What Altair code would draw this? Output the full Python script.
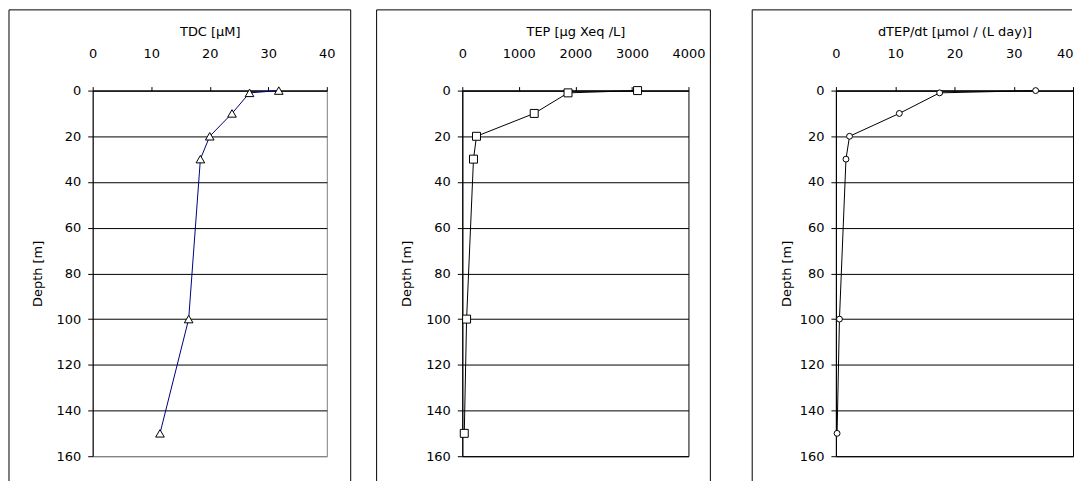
import altair as alt
import pandas as pd

# ---- data ----
DEPTH = [0, 1, 10, 20, 30, 100, 150]
TDC = [31.8, 26.8, 23.8, 20.0, 18.4, 16.4, 11.5]
TEP = [3100, 1870, 1272, 251, 198, 76, 35]
DTEP = [33.7, 17.5, 10.7, 2.3, 1.7, 0.6, 0.2]
DEPTH_TICKS = [0, 20, 40, 60, 80, 100, 120, 140, 160]
TDC_TICKS = [0, 10, 20, 30, 40]
TEP_TICKS = [0, 1000, 2000, 3000, 4000]
DTEP_TICKS = [0, 10, 20, 30, 40]

FONT = "DejaVu Sans"
H = 367
BOX_TOP = -81
BOX_BOTTOM = 392


def panel(vals, xticks, xtitle, line_color, shape, size, view_stroke, width,
          box_left, box_right, ytitle_pad, bottom_grid_color,
          extra_right=None, draw_right=True, last_label_right=False):
    df = pd.DataFrame({"depth": DEPTH, "value": vals})
    label_align = "center"
    if last_label_right:
        label_align = {"condition": {"test": "datum.value === %d" % xticks[-1],
                                     "value": "right"},
                       "value": "center"}
    x = alt.X("value:Q",
              scale=alt.Scale(domain=[xticks[0], xticks[-1]], nice=False, zero=False),
              axis=alt.Axis(orient="top", values=xticks, format="d", title=xtitle,
                            grid=False, tickSize=4, labelPadding=26, titlePadding=9,
                            domainColor="black", tickColor="black",
                            labelAlign=label_align,
                            labelFlush=False, labelOverlap=False))
    y = alt.Y("depth:Q",
              scale=alt.Scale(domain=[0, 160], reverse=True, nice=False, zero=False),
              axis=alt.Axis(values=DEPTH_TICKS, format="d", title="Depth [m]",
                            grid=True,
                            gridColor={"condition": {"test": "datum.value === 160",
                                                     "value": bottom_grid_color},
                                       "value": "black"},
                            gridOpacity=1, gridWidth=1,
                            tickSize=5, labelPadding=7, titlePadding=ytitle_pad,
                            domainColor="black", tickColor="black",
                            labelFlush=False, labelOverlap=False))
    base = alt.Chart(df)
    line = base.mark_line(color=line_color, strokeWidth=1).encode(
        x=x, y=y, order="depth:Q")
    pts = base.mark_point(shape=shape, size=size, filled=True, fill="white",
                          stroke="black", strokeWidth=1, opacity=1).encode(x=x, y=y)
    one = alt.Chart(pd.DataFrame({"k": [0]}))
    layers = [line, pts,
              one.mark_rule(color="black", strokeWidth=1).encode(
                  x=alt.value(box_left), x2=alt.value(box_right), y=alt.value(BOX_TOP)),
              one.mark_rule(color="black", strokeWidth=1).encode(
                  x=alt.value(box_left), y=alt.value(BOX_TOP), y2=alt.value(BOX_BOTTOM))]
    if draw_right:
        layers.append(one.mark_rule(color="black", strokeWidth=1).encode(
            x=alt.value(box_right), y=alt.value(BOX_TOP), y2=alt.value(BOX_BOTTOM)))
    if extra_right is not None:
        layers.append(one.mark_rule(color="white", strokeWidth=1, strokeOpacity=0).encode(
            x=alt.value(extra_right), y=alt.value(BOX_TOP), y2=alt.value(BOX_TOP + 10)))
    return alt.layer(*layers).properties(
        width=width, height=H,
        view=alt.ViewBackground(stroke=view_stroke, strokeWidth=1))


p1 = panel(TDC, TDC_TICKS, "TDC [µM]", "#000080", "triangle-up", 75, "#808080",
           235, -84, 259, 12, "#808080")
p2 = panel(TEP, TEP_TICKS, "TEP [µg Xeq /L]", "black", "square", 64, "black",
           227, -86, 249, 12, "black", extra_right=265)
p3 = panel(DTEP, DTEP_TICKS, "dTEP/dt [µmol / (L day)]", "black", "circle", 35, "black",
           238, -84, 237, 6, "black", draw_right=False, last_label_right=True)

chart = alt.hconcat(p1, p2, p3, spacing=24).properties(
    padding=0, background="white"
).configure_axis(
    labelFont=FONT, labelFontSize=13, labelColor="black",
    titleFont=FONT, titleFontSize=13, titleFontWeight="normal", titleColor="black",
    domainWidth=1, tickWidth=1
)

chart.save("out.html", embed_options={"renderer": "svg", "actions": False})
